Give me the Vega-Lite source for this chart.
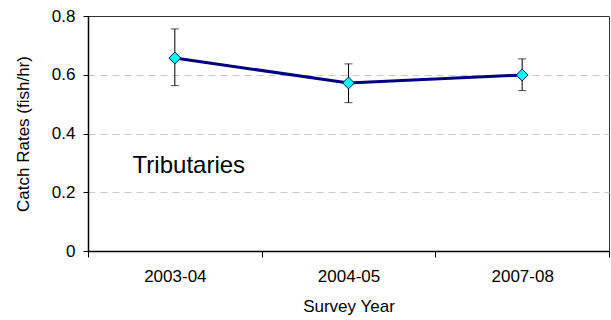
{
  "$schema": "https://vega.github.io/schema/vega-lite/v6.json",
  "width": 521,
  "height": 235,
  "autosize": "none",
  "padding": {"left": 88, "top": 16, "right": 2, "bottom": 69},
  "background": "white",
  "config": {
    "font": "Liberation Sans",
    "view": {"stroke": "#333333", "strokeWidth": 1},
    "axis": {"labelFont": "Liberation Sans", "titleFont": "Liberation Sans", "labelColor": "#000", "titleColor": "#000", "titleFontWeight": "normal"}
  },
  "data": {
    "values": [
      {"year": "2003-04", "rate": 0.657, "lo": 0.563, "hi": 0.756},
      {"year": "2004-05", "rate": 0.572, "lo": 0.505, "hi": 0.637},
      {"year": "2007-08", "rate": 0.599, "lo": 0.546, "hi": 0.654}
    ]
  },
  "encoding": {
    "x": {
      "field": "year", "type": "nominal", "sort": null,
      "scale": {"paddingInner": 0, "paddingOuter": 0},
      "axis": {
        "title": "Survey Year", "labelAngle": 0, "labelFontSize": 17, "titleFontSize": 17,
        "tickBand": "extent", "tickSize": 6, "tickColor": "#000", "domainColor": "#000", "domainWidth": 1.5,
        "labelPadding": 11, "titlePadding": 14, "grid": false
      }
    }
  },
  "layer": [
    {
      "mark": {"type": "rule", "color": "#000", "strokeWidth": 1},
      "encoding": {
        "y": {
          "field": "lo", "type": "quantitative",
          "scale": {"domain": [0, 0.8]},
          "axis": {
            "title": "Catch Rates (fish/hr)", "values": [0, 0.2, 0.4, 0.6, 0.8], "format": "~g",
            "labelFontSize": 17, "titleFontSize": 17, "tickSize": 5, "tickColor": "#000",
            "domainColor": "#000", "domainWidth": 1.5, "labelPadding": 8, "titlePadding": 19,
            "grid": true, "gridColor": "#c8c8c8", "gridDash": [7, 5], "gridWidth": 1,
            "gridOpacity": {"condition": {"test": "datum.value > 0.7 || datum.value < 0.1", "value": 0}, "value": 1}
          }
        },
        "y2": {"field": "hi"}
      }
    },
    {
      "mark": {"type": "tick", "color": "#000", "thickness": 1, "size": 8},
      "encoding": {"y": {"field": "lo", "type": "quantitative"}}
    },
    {
      "mark": {"type": "tick", "color": "#000", "thickness": 1, "size": 8},
      "encoding": {"y": {"field": "hi", "type": "quantitative"}}
    },
    {
      "mark": {"type": "line", "color": "#000080", "strokeWidth": 3},
      "encoding": {"y": {"field": "rate", "type": "quantitative"}}
    },
    {
      "mark": {"type": "point", "shape": "diamond", "filled": true, "fill": "#00FFFF", "stroke": "#000080", "strokeWidth": 1, "size": 140, "opacity": 1},
      "encoding": {"y": {"field": "rate", "type": "quantitative"}}
    },
    {
      "data": {"values": [{"year": "2003-04", "y": 0.265, "label": "Tributaries"}]},
      "mark": {"type": "text", "fontSize": 24, "align": "center", "baseline": "alphabetic", "dx": 14, "color": "#000"},
      "encoding": {
        "y": {"field": "y", "type": "quantitative"},
        "text": {"field": "label"}
      }
    }
  ]
}
